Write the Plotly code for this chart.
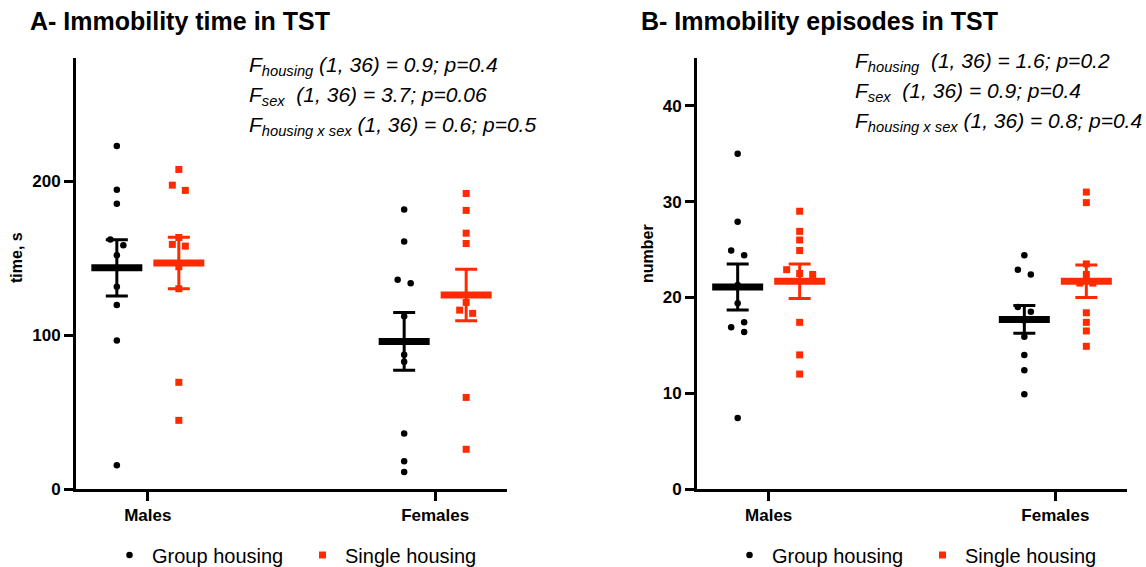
import plotly.graph_objects as go

# ---------------- data ----------------
categories = ["Males", "Females"]
groups = ["Group housing", "Single housing"]

# Panel A: immobility time (s)
a_group_males = [222.9, 194.4, 185.3, 162.1, 158.4, 151.9, 131.4, 119.5, 96.5, 15.4]
a_group_females = [181.6, 160.8, 135.9, 133.6, 112.3, 87.2, 82.7, 36.1, 18.0, 11.0]
a_single_males = [207.6, 197.4, 194.0, 163.4, 158.9, 157.8, 144.4, 130.1, 69.3, 44.6]
a_single_females = [192.0, 181.0, 166.2, 159.5, 121.2, 116.2, 114.1, 59.5, 25.8]
a_group_mean = [143.7, 95.9]
a_group_sem = [18.3, 18.8]
a_single_mean = [146.8, 126.0]
a_single_sem = [16.7, 16.7]

# Panel B: immobility episodes (number)
b_group_males = [35.0, 27.9, 24.9, 24.4, 21.3, 19.4, 17.4, 16.9, 16.4, 7.4]
b_group_females = [24.4, 22.9, 22.4, 19.0, 18.5, 17.6, 15.9, 14.0, 12.4, 9.9]
b_single_males = [29.0, 26.9, 26.0, 24.9, 22.9, 22.5, 22.4, 17.4, 14.0, 12.0]
b_single_females = [31.0, 29.9, 23.5, 22.4, 21.5, 21.5, 18.4, 17.4, 16.5, 14.9]
b_group_mean = [21.1, 17.7]
b_group_sem = [2.4, 1.45]
b_single_mean = [21.7, 21.7]
b_single_sem = [1.8, 1.7]

stats_a = [
    "<i>F<sub>housing</sub> (1, 36) = 0.9; p=0.4</i>",
    "<i>F<sub>sex</sub>&nbsp; (1, 36) = 3.7; p=0.06</i>",
    "<i>F<sub>housing x sex</sub> (1, 36) = 0.6; p=0.5</i>",
]
stats_b = [
    "<i>F<sub>housing</sub>&nbsp; (1, 36) = 1.6; p=0.2</i>",
    "<i>F<sub>sex</sub>&nbsp; (1, 36) = 0.9; p=0.4</i>",
    "<i>F<sub>housing x sex</sub> (1, 36) = 0.8; p=0.4</i>",
]

# ---------------- layout geometry ----------------
W, H = 1146, 567
M_T, M_B = 58, 78
PLOT_H = H - M_T - M_B
XA_DOM = [76 / W, 507 / W]
XB_DOM = [697 / W, 1127 / W]
X_RANGE = [-0.25, 1.25]
YA_RANGE = [0, 280]
YB_RANGE = [0, 45]

BLACK = "#000000"
RED = "#FF2A00"
FONT = "Liberation Sans, Arial, sans-serif"


def px_per_x(dom):
    return (dom[1] - dom[0]) * W / (X_RANGE[1] - X_RANGE[0])


def jitter(values, ppu, thr=6.5, step=13.0):
    n = len(values)
    order = sorted(range(n), key=lambda i: -values[i])
    offs = [0.0] * n
    clusters, cur = [], [order[0]]
    for a, b in zip(order, order[1:]):
        if (values[a] - values[b]) * ppu < thr:
            cur.append(b)
        else:
            clusters.append(cur)
            cur = [b]
    clusters.append(cur)
    for c in clusters:
        m = len(c)
        if m == 1:
            continue
        span = (values[c[0]] - values[c[-1]]) * ppu
        if span < thr:
            for k, i in enumerate(c):
                offs[i] = (k - (m - 1) / 2) * step
        else:
            for k, i in enumerate(c):
                offs[i] = (step / 2) * (1 if k % 2 == 0 else -1)
    return offs


fig = go.Figure()


def add_panel(xaxis, yaxis, dom, yrange, pts_group, pts_single,
              g_mean, g_sem, s_mean, s_sem, legend):
    ppx = px_per_x(dom)
    ppu = PLOT_H / (yrange[1] - yrange[0])
    shift = 31 / ppx
    for gi, (pts, color, symbol, size, mean, sem, name) in enumerate([
        (pts_group, BLACK, "circle", 6.5, g_mean, g_sem, groups[0]),
        (pts_single, RED, "square", 7, s_mean, s_sem, groups[1]),
    ]):
        sign = -1 if gi == 0 else 1
        xs, ys = [], []
        for ci, vals in enumerate(pts):
            offs = jitter(vals, ppu)
            for v, o in zip(vals, offs):
                xs.append(ci + sign * shift + o / ppx)
                ys.append(v)
        fig.add_trace(go.Scatter(
            x=xs, y=ys, mode="markers", name=name, legend=legend,
            xaxis=xaxis, yaxis=yaxis,
            marker=dict(color=color, symbol=symbol, size=size, line=dict(width=0)),
        ))
        # mean bar (line-ew symbol spans 1.4 x size) with SEM error bars
        fig.add_trace(go.Scatter(
            x=[ci + sign * shift for ci in range(len(categories))], y=mean,
            mode="markers", showlegend=False, xaxis=xaxis, yaxis=yaxis,
            marker=dict(symbol="line-ew", size=51 / 1.4, color=color,
                        line=dict(color=color, width=7)),
            error_y=dict(type="data", array=sem, visible=True, color=color,
                         thickness=3, width=11),
            hoverinfo="skip",
        ))


add_panel("x", "y", XA_DOM, YA_RANGE,
          [a_group_males, a_group_females], [a_single_males, a_single_females],
          a_group_mean, a_group_sem, a_single_mean, a_single_sem, "legend")
add_panel("x2", "y2", XB_DOM, YB_RANGE,
          [b_group_males, b_group_females], [b_single_males, b_single_females],
          b_group_mean, b_group_sem, b_single_mean, b_single_sem, "legend2")

axis_common = dict(showline=True, linecolor="black", linewidth=3, ticks="outside",
                   tickcolor="black", tickwidth=2.5, ticklen=9, showgrid=False,
                   zeroline=False, fixedrange=True,
                   tickfont=dict(family=FONT, size=17, color="black", weight="bold"))

ann = []


def ypx(p):
    return (H - M_B - p) / PLOT_H


ann.append(dict(text="<b>A- Immobility time in TST</b>", x=28 / W, y=ypx(21), xref="paper",
                yref="paper", xanchor="left", yanchor="middle", showarrow=False,
                font=dict(family=FONT, size=25, color="black")))
ann.append(dict(text="<b>B- Immobility episodes in TST</b>", x=639 / W, y=ypx(21), xref="paper",
                yref="paper", xanchor="left", yanchor="middle", showarrow=False,
                font=dict(family=FONT, size=25, color="black")))
ann.append(dict(text="<b>time, s</b>", x=16 / W, y=ypx(258), xref="paper", yref="paper",
                textangle=-90, showarrow=False, xanchor="center", yanchor="middle",
                font=dict(family=FONT, size=16, color="black")))
ann.append(dict(text="<b>number</b>", x=647 / W, y=ypx(254), xref="paper", yref="paper",
                textangle=-90, showarrow=False, xanchor="center", yanchor="middle",
                font=dict(family=FONT, size=16, color="black")))
for i, t in enumerate(stats_a):
    ann.append(dict(text=t, x=247 / W, y=ypx(66 + 30 * i), xref="paper", yref="paper",
                    xanchor="left", yanchor="middle", showarrow=False,
                    font=dict(family=FONT, size=21, color="black")))
for i, t in enumerate(stats_b):
    ann.append(dict(text=t, x=853 / W, y=ypx(62 + 30 * i), xref="paper", yref="paper",
                    xanchor="left", yanchor="middle", showarrow=False,
                    font=dict(family=FONT, size=21, color="black")))

legend_common = dict(orientation="h", xanchor="left", yanchor="middle",
                     font=dict(family=FONT, size=20, color="black"),
                     itemwidth=35, entrywidth=143, entrywidthmode="pixels",
                     bgcolor="rgba(0,0,0,0)", itemclick=False, itemdoubleclick=False)

fig.update_layout(
    width=W, height=H,
    margin=dict(l=0, r=0, t=M_T, b=M_B, autoexpand=False),
    plot_bgcolor="white", paper_bgcolor="white",
    xaxis=dict(domain=XA_DOM, range=X_RANGE, tickvals=[0, 1], ticktext=categories,
               anchor="y", **axis_common),
    yaxis=dict(domain=[0, 1], range=YA_RANGE, tickvals=[0, 100, 200], anchor="x",
               **axis_common),
    xaxis2=dict(domain=XB_DOM, range=X_RANGE, tickvals=[0, 1], ticktext=categories,
                anchor="y2", **axis_common),
    yaxis2=dict(domain=[0, 1], range=YB_RANGE, tickvals=[0, 10, 20, 30, 40], anchor="x2",
                **axis_common),
    legend=dict(x=107 / W, y=ypx(555), **legend_common),
    legend2=dict(x=727 / W, y=ypx(555), **legend_common),
    annotations=ann,
    showlegend=True,
)

fig.write_html("out.html", config={"displayModeBar": False},
               post_script="document.body.style.margin='0';document.body.style.padding='0';")
